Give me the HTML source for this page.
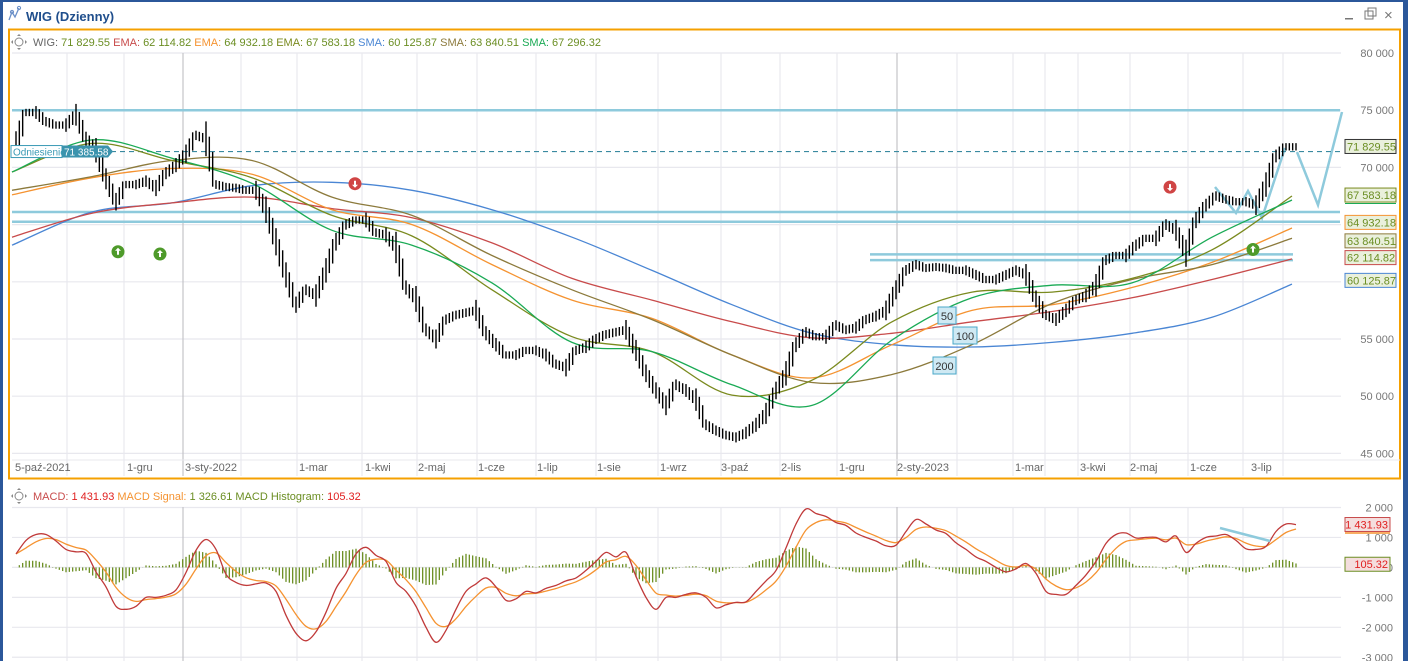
<!DOCTYPE html>
<html><head><meta charset="utf-8">
<style>
html,body{margin:0;padding:0;background:#fff;}
svg{display:block;font-family:"Liberation Sans",sans-serif;}
</style></head>
<body>
<svg id="c" width="1408" height="661" viewBox="0 0 1408 661" xmlns="http://www.w3.org/2000/svg">
  <rect x="0" y="0" width="1408" height="661" fill="#fff"/>
  <rect x="0" y="0" width="1408" height="2" fill="#2b579a"/>
  <rect x="0" y="0" width="3" height="661" fill="#2b579a"/>
  <rect x="1403" y="0" width="5" height="661" fill="#2b579a"/>
  <g>
    <path d="M9 20 L12 12 L15 17 L19 8" stroke="#6a8fc8" stroke-width="1.3" fill="none"/>
    <circle cx="12" cy="12" r="1.6" fill="none" stroke="#6a8fc8"/><circle cx="19" cy="8" r="1.6" fill="none" stroke="#6a8fc8"/>
    <text x="26" y="21" font-size="13" font-weight="bold" fill="#1f4e8c">WIG (Dzienny)</text>
  </g>
  <g><rect x="1345" y="18" width="8" height="1.5" fill="#777"/></g>
  <g><rect x="1365" y="11" width="8" height="8" fill="none" stroke="#777"/><rect x="1368" y="8" width="8" height="8" fill="none" stroke="#777"/></g>
  <g><text x="1384" y="20" font-size="15" fill="#777">×</text></g>
  <rect x="9" y="29.5" width="1391" height="449" fill="none" stroke="#f5a000" stroke-width="2"/>
  <g id="grid"></g>
  <g id="marks"></g>
  <g id="overlay"></g>
</svg>
<script>
// ---------- data ----------
const priceTickValues = [80000,75000,70000,65000,60000,55000,50000,45000];
const priceTickLabels = ["80 000","75 000","70 000","65 000","60 000","55 000","50 000","45 000"];
const macdTickValues = [2000,1000,0,-1000,-2000,-3000];
const macdTickLabels = ["2 000","1 000","0","-1 000","-2 000","-3 000"];
const monthLabels = ["5-paź-2021","1-gru","3-sty-2022","1-mar","1-kwi","2-maj","1-cze","1-lip","1-sie","1-wrz","3-paź","2-lis","1-gru","2-sty-2023","1-mar","3-kwi","2-maj","1-cze","3-lip"];
const monthLabelIdx = [0,11.2,17,28.4,35,40.3,46.3,52.2,58.2,64.5,70.6,76.6,82.4,88.2,100,106.5,111.5,117.5,123.6];
const gridIdx = [5.1,10.8,16.7,22.5,28.1,34.6,40.1,46.1,52,58,64.2,70.5,76.4,82.1,88.1,94.1,99.7,102.9,106.2,111.4,117.2,122.7,126.7];
const yearGridIdx = [16.7,88.1];
const close = [72000,74800,74800,74000,73700,73700,74600,72500,71500,69000,67000,68500,68500,68800,68200,69500,70200,71200,72800,72500,68500,68300,68200,68000,68000,66300,63500,60600,58000,59300,58800,61000,63500,65000,65400,65400,64300,64100,63000,59500,58500,55800,55000,56700,57100,57300,57500,55500,54500,53600,53600,54000,54000,53600,52800,52500,54000,54300,55000,55400,55600,55800,54000,52000,50500,49200,51000,50500,49700,47500,47000,46600,46400,46800,47500,48500,50500,52000,54500,55600,55200,55200,56200,55800,56000,56700,57000,57500,59300,61000,61500,61200,61300,61200,61000,61000,60600,60200,60200,60600,61000,60600,58500,57100,56700,57500,58400,58800,59700,61900,62300,62300,63200,63800,63800,65000,64500,62500,65400,66700,67500,67200,67000,67000,66700,68500,71000,71800,71800];
const sma200 = [63200,66100,66900,68400,68700,68000,66300,63900,61000,58000,55500,54500,54300,54700,55500,56900,59800];
const ema200 = [63900,66000,66900,67400,66400,65600,63400,60300,58400,56500,55100,55500,56500,57400,58600,60200,62000];
const ema100 = [67600,69100,69900,69400,66300,65000,61500,58400,56800,53600,51600,54500,57500,58000,59500,61700,64700];
const sma100 = [68000,69200,70600,70600,67400,65800,62300,59300,56700,53600,51200,51900,54500,58100,60200,61500,63800];
const ema50 = [69600,72100,70600,69100,65800,64000,59300,55200,53900,50100,51400,56500,59100,59100,60300,62800,67500];
const sma50 = [69600,72400,70800,68600,64500,63200,59900,54700,53900,51000,49200,54900,58600,59700,59900,63900,67150];
const macd = [450,900,1100,1100,880,600,520,470,-150,-650,-1300,-1400,-1300,-1000,-1000,-930,-750,-170,570,930,600,-230,-500,-600,-550,-520,-800,-1600,-2200,-2450,-2150,-1500,-700,-200,450,670,400,200,-500,-800,-1300,-2000,-2500,-2100,-1400,-800,-550,-350,-650,-1100,-1050,-800,-850,-700,-600,-450,-350,-100,200,500,350,500,-300,-1000,-1400,-1000,-1000,-900,-850,-1000,-1350,-1250,-1170,-1150,-800,-450,-100,650,1450,1950,1800,1700,1500,1400,1150,1000,880,720,740,1200,1600,1450,1250,1130,820,600,350,200,0,-150,-50,130,-200,-800,-900,-900,-600,-250,200,800,1100,1150,980,1000,1000,850,1050,500,800,1000,1050,1100,900,620,600,700,1200,1450,1430];
const signalUpIdx = [10.2, 14.4, 123.7];
const signalUpVal = [63500, 63300, 63700];
const signalDownIdx = [33.9, 115.4];
const signalDownVal = [67700, 67400];
const refValue = 71385.58;
const hLineVals = [75000, 66100, 65250];
const hLineShortVals = [62400, 61900];
const rightBoxVals = [71829.55, 67583.18, 64932.18, 63840.51, 62114.82, 60125.87];
const rightBoxLabels = ["71 829.55","67 583.18","64 932.18","63 840.51","62 114.82","60 125.87"];
const rightBoxColors = ["#333","#7a8a1e","#f59331","#8c7a3c","#c84b4b","#4a86d4"];

// ---------- scales ----------
const NS = "http://www.w3.org/2000/svg";
const X0 = 16, DX = 10, MA0 = 12, MADX = 80, PLOT_R = 1341;
function xOf(i){ return X0 + i*DX; }
function xMA(j){ return MA0 + j*MADX; }
function yP(v){ return 53 + (80000 - v)/5000*57.2; }
function yM(v){ return 567.4 - v/1000*29.95; }
function el(tag, attrs, parent){ const e=document.createElementNS(NS,tag); for(const k in attrs) e.setAttribute(k,attrs[k]); parent.appendChild(e); return e; }
function smoothPath(pts){
  let d='M'+pts[0][0].toFixed(1)+' '+pts[0][1].toFixed(1);
  for(let i=0;i<pts.length-1;i++){
    const p0=pts[Math.max(0,i-1)], p1=pts[i], p2=pts[i+1], p3=pts[Math.min(pts.length-1,i+2)];
    const c1x=p1[0]+(p2[0]-p0[0])/6, c1y=p1[1]+(p2[1]-p0[1])/6;
    const c2x=p2[0]-(p3[0]-p1[0])/6, c2y=p2[1]-(p3[1]-p1[1])/6;
    d+=` C${c1x.toFixed(1)} ${c1y.toFixed(1)} ${c2x.toFixed(1)} ${c2y.toFixed(1)} ${p2[0].toFixed(1)} ${p2[1].toFixed(1)}`;
  }
  return d;
}
const grid=document.getElementById('grid'), marks=document.getElementById('marks'), ov=document.getElementById('overlay');

// ---------- grid ----------
priceTickValues.forEach((v,i)=>{
  const l=el('line',{x1:12,x2:PLOT_R,y1:yP(v),y2:yP(v),stroke:'#e8e8ee','stroke-width':1.2},grid);
  
  
  const t=el('text',{x:1394,y:yP(v)+4,'font-size':11,fill:'#777','text-anchor':'end'},grid);
  t.textContent=priceTickLabels[i];
  
  
});
macdTickValues.forEach((v,i)=>{
  const l=el('line',{x1:12,x2:PLOT_R,y1:yM(v),y2:yM(v),stroke:'#e8e8ee','stroke-width':1.2},grid);
  
  
  const t=el('text',{x:1393,y:yM(v)+4,'font-size':11,fill:'#777','text-anchor':'end'},grid);
  t.textContent=macdTickLabels[i];
  
  
});
gridIdx.forEach(g=>{
  const yr=yearGridIdx.includes(g);
  const c=yr?'#c4c4c8':'#e8e8ee';
  const a=el('line',{x1:xOf(g),x2:xOf(g),y1:53,y2:476,stroke:c,'stroke-width':1.2},grid);
  
  
  const b=el('line',{x1:xOf(g),x2:xOf(g),y1:507,y2:661,stroke:c,'stroke-width':1.2},grid);
  
  
});
el('line',{x1:12,x2:1400,y1:460,y2:460,stroke:'#e8e8ee'},grid);
monthLabels.forEach((m,i)=>{
  const t=el('text',{x:xOf(monthLabelIdx[i])-1,y:471,'font-size':11,fill:'#666'},grid);
  t.textContent=m;
  
  
});

// ---------- legends ----------
function legend(y, parts, name){
  const g=el('g',{},ov);
  
  
  el('circle',{cx:19,cy:y-4,r:4,fill:'none',stroke:'#888'},g);
  el('path',{d:`M19 ${y-12} l-2 2 h4z M19 ${y+4} l-2 -2 h4z M11 ${y-4} l2 -2 v4z M27 ${y-4} l-2 -2 v4z`,fill:'#888'},g);
  const t=el('text',{x:33,y:y,'font-size':11},g);
  parts.forEach(p=>{ const s=el('tspan',{fill:p[1]},t); s.textContent=p[0]; });
}
legend(46,[["WIG: ","#666"],["71 829.55 ","#6b8e23"],["EMA: ","#c84b4b"],["62 114.82 ","#6b8e23"],["EMA: ","#f59331"],["64 932.18 ","#6b8e23"],["EMA: ","#7a8a1e"],["67 583.18 ","#6b8e23"],["SMA: ","#4a86d4"],["60 125.87 ","#6b8e23"],["SMA: ","#8c7a3c"],["63 840.51 ","#6b8e23"],["SMA: ","#1aaa55"],["67 296.32","#6b8e23"]],'price-legend');
legend(500,[["MACD: ","#c84b4b"],["1 431.93 ","#e02020"],["MACD Signal: ","#f59331"],["1 326.61 ","#6b8e23"],["MACD Histogram: ","#6b8e23"],["105.32","#e02020"]],'macd-legend');

// ---------- horizontal support lines ----------
hLineVals.forEach(v=>{
  const l=el('line',{x1:12,x2:1340,y1:yP(v),y2:yP(v),stroke:'#8ecadc','stroke-width':2.5},marks);
  
  
});
hLineShortVals.forEach(v=>{
  const l=el('line',{x1:870,x2:1293,y1:yP(v),y2:yP(v),stroke:'#8ecadc','stroke-width':2.5},marks);
  
  
});
const tri=el('polyline',{points:'1215,187 1236,213 1248,191 1262,218 1285,148',fill:'none',stroke:'#8ecadc','stroke-width':2.5},marks);


const proj=el('polyline',{points:'1297,152 1318,205 1342,112',fill:'none',stroke:'#8ecadc','stroke-width':2.5},marks);


const ref=el('line',{x1:12,x2:1340,y1:yP(refValue),y2:yP(refValue),stroke:'#3a8aa0','stroke-width':1.2,'stroke-dasharray':'5,4'},marks);



// ---------- moving averages ----------
function maLine(arr,color,name){
  const pts=arr.map((v,j)=>[xMA(j),yP(v)]);
  const p=el('path',{d:smoothPath(pts),fill:'none',stroke:color,'stroke-width':1.3},marks);
  
  
}
maLine(sma200,'#4a86d4','sma-200-line');
maLine(ema200,'#c84b4b','ema-200-line');
maLine(ema100,'#f59331','ema-100-line');
maLine(sma100,'#8c7a3c','sma-100-line');
maLine(ema50,'#7a8a1e','ema-50-line');
maLine(sma50,'#1aaa55','sma-50-line');

// ---------- price bars ----------
for(let i=0;i<close.length;i++){
  const nxt = i<close.length-1 ? close[i+1] : close[i];
  const steps = i<close.length-1 ? 3 : 1;
  for(let k=0;k<steps;k++){
    const t=k/3, v=close[i]+(nxt-close[i])*t;
    const half=320+Math.abs(nxt-close[i])*0.3;
    const x=xOf(i)+k*DX/3;
    const b=el('line',{x1:x,x2:x,y1:yP(v+half),y2:yP(v-half),stroke:'#000','stroke-width':1.4},marks);
    
    
  }
}

// ---------- signals ----------
signalUpIdx.forEach((ix,i)=>{
  const g=el('g',{},marks);
  
  
  const cx=xOf(ix), cy=yP(signalUpVal[i])+10;
  el('circle',{cx:cx,cy:cy,r:6.5,fill:'#4e9a2a'},g);
  el('path',{d:`M${cx} ${cy-4} l-3 3 h2 v4 h2 v-4 h2z`,fill:'#fff'},g);
});
signalDownIdx.forEach((ix,i)=>{
  const g=el('g',{},marks);
  
  
  const cx=xOf(ix), cy=yP(signalDownVal[i])-10;
  el('circle',{cx:cx,cy:cy,r:6.5,fill:'#d04545'},g);
  el('path',{d:`M${cx} ${cy+4} l-3 -3 h2 v-4 h2 v4 h2z`,fill:'#fff'},g);
});

// ---------- MA period tags ----------
[["50",938,307,18],["100",953,327,24],["200",933,357,23]].forEach(t=>{
  const g=el('g',{},ov);
  
  
  el('rect',{x:t[1],y:t[2],width:t[3],height:17,fill:'#cfe9f3',stroke:'#4aa8c8'},g);
  const tx=el('text',{x:t[1]+t[3]/2,y:t[2]+13,'font-size':11,fill:'#333','text-anchor':'middle'},g);
  tx.textContent=t[0];
});

// ---------- reference label ----------
(function(){
  const g=el('g',{},ov);
  
  
  const y=yP(refValue);
  el('rect',{x:11,y:y-6,width:51,height:12,fill:'#fff',stroke:'#3a9ab5'},g);
  const a=el('text',{x:13,y:y+4,'font-size':10,fill:'#3a9ab5'},g); a.textContent='Odniesienie';
  el('path',{d:`M62 ${y-6} H108 L113 ${y} L108 ${y+6} H62z`,fill:'#3a93ad'},g);
  const b=el('text',{x:64,y:y+4,'font-size':10,fill:'#fff'},g); b.textContent='71 385.58';
})();

// ---------- right value boxes ----------
rightBoxVals.forEach((v,i)=>{
  let y=yP(v);
  if(i===2) y-=3; if(i===3) y+=3;
  const g=el('g',{},ov);
  
  
  el('rect',{x:1345,y:y-7,width:51,height:14,fill:'#eaf0dc',stroke:rightBoxColors[i]},g);
  const t=el('text',{x:1347,y:y+4,'font-size':11,fill:'#6b8e23'},g);
  t.textContent=rightBoxLabels[i];
});
el('line',{x1:1345,x2:1396,y1:yP(67583.18)+8.5,y2:yP(67583.18)+8.5,stroke:'#1aaa55'},ov);

// ---------- MACD ----------
const signal=[]; let s=macd[0];
macd.forEach(v=>{ s=s+0.45*(v-s); signal.push(s); });
for(let i=0;i<macd.length;i++){
  const nxt=i<macd.length-1?i+1:i;
  for(let k=0;k<3;k++){
    if(i===macd.length-1 && k>0) break;
    const t=k/3;
    const h=(macd[i]-signal[i])+((macd[nxt]-signal[nxt])-(macd[i]-signal[i]))*t;
    const x=xOf(i)+k*DX/3;
    const b=el('line',{x1:x,x2:x,y1:yM(0),y2:yM(h*0.9),stroke:'#6b8e23','stroke-width':1.3},marks);
    
    
  }
}
function mline(arr,color,name){
  const pts=arr.map((v,i)=>[xOf(i),yM(v)]);
  const p=el('path',{d:smoothPath(pts),fill:'none',stroke:color,'stroke-width':1.3},marks);
  
  
}
mline(signal,'#f59331','macd-signal-line');
mline(macd,'#c03a3a','macd-line');
const div=el('line',{x1:1220,y1:528,x2:1270,y2:541,stroke:'#8ecadc','stroke-width':2.5},marks);


[["1 431.93",1431.93,"#c84b4b"],["105.32",105.32,"#6b8e23"]].forEach(b=>{
  const g=el('g',{},ov);
  
  
  const y=yM(b[1]);
  el('rect',{x:1345,y:y-7,width:45,height:14,fill:'#f4dede',stroke:b[2]},g);
  const t=el('text',{x:1388,y:y+4,'font-size':11,fill:'#e02020','text-anchor':'end'},g);
  t.textContent=b[0];
});
el('line',{x1:1345,x2:1390,y1:yM(1431.93)+8.5,y2:yM(1431.93)+8.5,stroke:'#f59331','stroke-width':1.5},ov);
</script>
</body></html>
